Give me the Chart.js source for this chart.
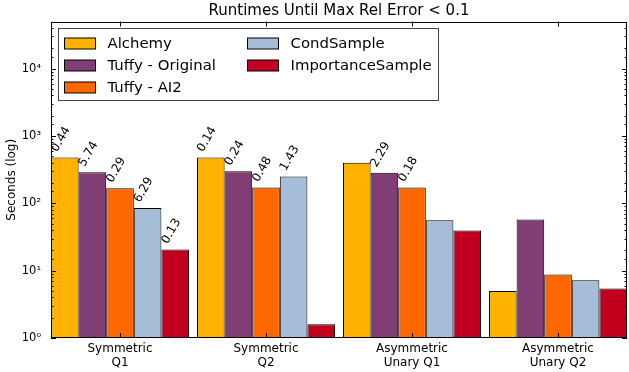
<!DOCTYPE html>
<html>
<head>
<meta charset="utf-8">
<script src="https://cdn.jsdelivr.net/npm/chart.js@4/dist/chart.umd.min.js"></script>
<style>
  body { margin: 0; background: #fff; }
  #wrap { width: 629px; height: 372px; }
</style>
</head>
<body>
<div id="wrap"><canvas id="chart_runtimes"></canvas></div>
<script>
const groups = [["Symmetric", "Q1"], ["Symmetric", "Q2"], ["Asymmetric", "Unary Q1"], ["Asymmetric", "Unary Q2"]];
const seriesNames = ["Alchemy", "Tuffy - Original", "Tuffy - AI2", "CondSample", "ImportanceSample"];
const seriesColors = ["#FFB300", "#803E75", "#FF6800", "#A6BDD7", "#C10020"];

// seconds
const alchemy = [480, 480, 399, 5.0];
const tuffyOriginal = [290, 300, 284, 57.7];
const tuffyAI2 = [168, 172, 172, 8.8];
const condSample = [85, 251, 56, 7.2];
const importanceSample = [20.7, 1.6, 39.6, 5.45];

// little numbers written above the bars
const alchemyNotes = ["0.44", "0.14", null, null];
const tuffyOriginalNotes = ["5.74", "0.24", "2.29", null];
const tuffyAI2Notes = ["0.29", "0.48", "0.18", null];
const condSampleNotes = ["6.29", "1.43", null, null];
const importanceNotes = ["0.13", null, null, null];

const yTickValues = [1, 10, 100, 1000, 10000];
const yTickLabels = ["10⁰", "10¹", "10²", "10³", "10⁴"];

const seriesValues = [alchemy, tuffyOriginal, tuffyAI2, condSample, importanceSample];
const seriesNotes = [alchemyNotes, tuffyOriginalNotes, tuffyAI2Notes, condSampleNotes, importanceNotes];

const FONT = "'DejaVu Sans', sans-serif";
const catPct = 138 / 146;
const half = catPct / 2;

function isMajor(v) {
    return yTickValues.indexOf(v) >= 0;
}

const framePlugin = {
    id: 'frame',
    afterDatasetsDraw(chart) {
        const ctx = chart.ctx;
        // rotated notes above bars
        ctx.save();
        ctx.fillStyle = '#000';
        ctx.font = "12px " + FONT;
        ctx.textAlign = 'left';
        ctx.textBaseline = 'alphabetic';
        for (let i = 0; i < seriesNotes.length; i++) {
            const meta = chart.getDatasetMeta(i);
            meta.data.forEach(function(el, j) {
                const note = seriesNotes[i][j];
                if (!note) return;
                ctx.save();
                ctx.translate(el.x - el.width / 2 + 6, el.y - 5);
                ctx.rotate(-Math.PI / 3);
                ctx.fillText(note, 0, 0);
                ctx.restore();
            });
        }
        ctx.restore();
    },
    afterDraw(chart) {
        const ctx = chart.ctx;
        const a = chart.chartArea;
        const ys = chart.scales.y, xs = chart.scales.x;
        ctx.save();
        ctx.strokeStyle = '#000';
        ctx.lineWidth = 1;
        ctx.beginPath();
        ys.ticks.forEach(function(t) {
            const py = Math.round(ys.getPixelForValue(t.value)) + 0.5;
            const len = isMajor(t.value) ? 5 : 2.5;
            ctx.moveTo(a.left, py); ctx.lineTo(a.left + len, py);
            ctx.moveTo(a.right, py); ctx.lineTo(a.right - len, py);
        });
        xs.ticks.forEach(function(t) {
            const px = Math.round(xs.getPixelForValue(t.value)) + 0.5;
            ctx.moveTo(px, a.bottom); ctx.lineTo(px, a.bottom - 5);
            ctx.moveTo(px, a.top); ctx.lineTo(px, a.top + 5);
        });
        ctx.stroke();
        ctx.strokeRect(Math.round(a.left) + 0.5, Math.round(a.top) + 0.5,
            Math.round(a.right - a.left) - 1, Math.round(a.bottom - a.top) - 1);

        // legend, two columns filled top to bottom
        const bx = Math.round(a.left) + 7.5, by = Math.round(a.top) + 6.5;
        ctx.fillStyle = '#fff';
        ctx.fillRect(bx, by, 380, 72);
        ctx.strokeStyle = '#444';
        ctx.strokeRect(bx, by, 380, 72);
        ctx.font = "14.9px " + FONT;
        ctx.textBaseline = 'middle';
        ctx.textAlign = 'left';
        chart.data.datasets.forEach(function(ds, i) {
            const col = Math.floor(i / 3), row = i % 3;
            const sx = bx + 6 + col * 183;
            const cy = by + 15 + row * 22;
            ctx.fillStyle = ds.backgroundColor;
            ctx.fillRect(sx, cy - 5.5, 31, 11);
            ctx.strokeStyle = '#000';
            ctx.strokeRect(sx, cy - 5.5, 31, 11);
            ctx.fillStyle = '#000';
            ctx.fillText(ds.label, sx + 43, cy + 1);
        });
        ctx.restore();
    }
};

const ctx = document.getElementById('chart_runtimes').getContext('2d');
const myChart = new Chart(ctx, {
    type: 'bar',
    data: {
        datasets: seriesNames.map(function(name, i) {
            return {
                label: name,
                data: seriesValues[i].map(function(v, j) { return {x: j, y: v}; }),
                backgroundColor: seriesColors[i],
                borderColor: '#000',
                borderWidth: 1
            };
        })
    },
    options: {
        responsive: true,
        maintainAspectRatio: false,
        animation: false,
        layout: { padding: { left: 0, right: 2, top: 0, bottom: 0 } },
        categoryPercentage: catPct,
        barPercentage: 1.0,
        plugins: {
            legend: { display: false },
            tooltip: { enabled: false },
            title: {
                display: true,
                text: 'Runtimes Until Max Rel Error < 0.1',
                fullSize: false,
                color: '#000',
                font: { family: FONT, size: 15, weight: 'normal', lineHeight: 1.15 },
                padding: { top: 2.5, bottom: 1.8 }
            }
        },
        scales: {
            x: {
                type: 'linear',
                offset: false,
                min: -half,
                max: groups.length - 1 + half,
                grid: { display: false, drawTicks: false, offset: false },
                border: { display: false },
                afterBuildTicks: function(scale) {
                    scale.ticks = groups.map(function(g, i) { return {value: i}; });
                },
                afterFit: function(scale) { scale.height = 34; },
                ticks: {
                    autoSkip: false,
                    maxRotation: 0,
                    padding: 3.5,
                    color: '#000',
                    font: { family: FONT, size: 12, lineHeight: 1.18 },
                    callback: function(v) { return groups[v]; }
                }
            },
            y: {
                type: 'logarithmic',
                min: 1,
                max: 50000,
                grid: { display: false, drawTicks: false },
                border: { display: false },
                afterFit: function(scale) { scale.width = 51; },
                title: {
                    display: true,
                    text: 'Seconds (log)',
                    color: '#000',
                    font: { family: FONT, size: 12 },
                    padding: { top: 5, bottom: 0 }
                },
                ticks: {
                    autoSkip: false,
                    padding: 10,
                    color: '#000',
                    font: { family: FONT, size: 11.5 },
                    callback: function(v) {
                        const k = yTickValues.indexOf(v);
                        return k >= 0 ? yTickLabels[k] : '';
                    }
                }
            }
        }
    },
    plugins: [framePlugin]
});
</script>
</body>
</html>
